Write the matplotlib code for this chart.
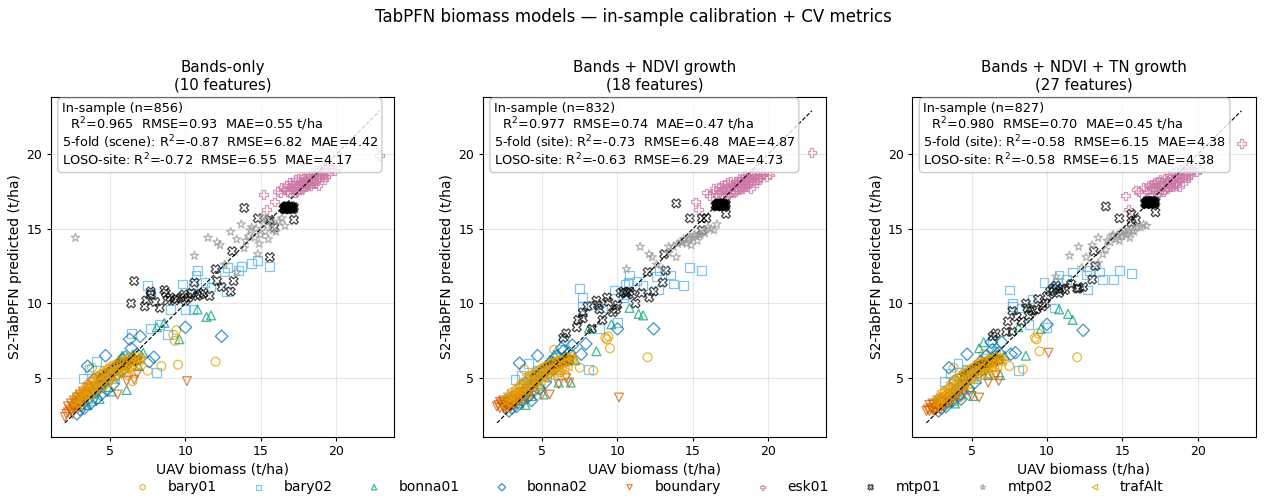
import matplotlib.pyplot as plt
import numpy as np

SITES = ["bary01", "bary02", "bonna01", "bonna02", "boundary",
         "esk01", "mtp01", "mtp02", "trafAlt"]
COLORS = ["#E69F00", "#56B4E9", "#009E73", "#0072B2", "#D55E00",
          "#CC79A7", "#000000", "#999999", "#E69F00"]
MARKERS = ["o", "s", "^", "D", "v", "P", "X", "*", "<"]

MODEL_TITLES = ["Bands-only\n(10 features)",
                "Bands + NDVI growth\n(18 features)",
                "Bands + NDVI + TN growth\n(27 features)"]
N_INSAMPLE = [856, 832, 827]
R2_IN = [0.965, 0.977, 0.980]
RMSE_IN = [0.93, 0.74, 0.70]
MAE_IN = [0.55, 0.47, 0.45]
CV_NAMES = ["5-fold (scene)", "5-fold (site)", "5-fold (site)"]
R2_CV = [-0.87, -0.73, -0.58]
RMSE_CV = [6.82, 6.48, 6.15]
MAE_CV = [4.42, 4.87, 4.38]
R2_LOSO = [-0.72, -0.63, -0.58]
RMSE_LOSO = [6.55, 6.29, 6.15]
MAE_LOSO = [4.17, 4.73, 4.38]

# UAV biomass (x) per site, predictions (y) per site and model
BARY01_X = [12.0, 9.5, 8.4, 7.5, 9.4, 9.3, 9.2, 6.5, 3.8, 3.2, 3.6, 4.2, 4.6, 5.0, 5.4, 5.8,
            6.2, 3.0, 4.0, 5.2, 6.0, 6.8, 4.4]
BARY01_Y_BANDS = [6.1, 5.9, 5.8, 5.5, 8.2, 7.5, 7.9, 4.8, 5.7, 3.9, 4.3, 4.9, 5.5, 5.0, 5.8, 6.3,
                  5.2, 3.5, 4.6, 5.5, 6.1, 6.2, 4.3]
BARY01_Y_NDVI = [6.4, 7.0, 5.5, 5.7, 7.8, 7.6, 7.7, 5.2, 5.6, 4.0, 4.5, 5.0, 5.4, 5.1, 5.7, 6.9,
                 5.4, 3.6, 4.7, 5.6, 6.0, 6.3, 4.4]
BARY01_Y_TN = [6.4, 6.8, 5.6, 5.8, 8.0, 7.6, 7.7, 5.2, 5.7, 4.0, 4.4, 5.0, 5.5, 5.0, 5.8, 6.6,
               5.3, 3.5, 4.6, 5.6, 6.1, 6.2, 4.3]

BARY02_X = [14.4, 14.8, 15.6, 13.7, 13.5, 12.8, 12.6, 12.7, 11.7, 10.8, 10.7, 11.3, 10.5, 9.8,
            10.4, 10.0, 10.5, 9.0, 7.5, 7.7, 7.7, 8.3, 8.8, 8.1, 6.4, 4.1, 3.6, 4.7, 3.2, 3.0,
            3.5, 4.0, 4.5, 5.0, 5.5, 6.0, 3.8, 4.3, 5.3]
BARY02_Y_BANDS = [12.7, 12.9, 12.5, 12.5, 12.2, 12.4, 12.1, 10.8, 11.1, 12.2, 11.9, 11.4, 11.2,
                  11.3, 10.7, 9.6, 9.6, 9.6, 11.2, 10.6, 8.3, 8.6, 7.9, 5.4, 8.0, 6.1, 5.6, 5.2,
                  5.0, 3.3, 3.6, 4.2, 4.8, 5.2, 5.8, 6.3, 3.5, 4.6, 5.0]
BARY02_Y_NDVI = [11.2, 12.4, 12.2, 11.3, 11.9, 12.2, 11.8, 10.9, 11.2, 11.9, 11.4, 11.5, 11.3,
                 10.9, 10.4, 8.7, 10.6, 9.7, 11.0, 10.4, 9.8, 9.9, 8.3, 5.6, 7.5, 6.0, 5.2, 5.5,
                 4.9, 3.4, 3.7, 4.3, 4.9, 5.3, 5.9, 6.4, 3.6, 4.7, 5.1]
BARY02_Y_TN = [11.6, 12.2, 12.0, 11.6, 12.1, 12.2, 11.9, 10.9, 12.1, 11.9, 11.4, 11.6, 11.0,
               11.4, 10.9, 8.4, 9.7, 10.3, 10.9, 10.0, 9.8, 9.7, 8.6, 5.5, 7.6, 6.0, 5.3, 5.6,
               4.8, 3.3, 3.6, 4.2, 4.8, 5.2, 5.8, 6.3, 3.5, 4.6, 5.0]

BONNA01_X = [10.8, 11.4, 11.7, 9.6, 8.6, 8.1, 6.1, 5.8, 2.7, 2.8, 5.1, 6.9, 4.9, 3.9, 5.5, 4.3,
             3.5, 6.5, 7.2]
BONNA01_Y_BANDS = [9.6, 9.1, 9.2, 7.6, 8.7, 8.4, 4.2, 6.5, 3.8, 3.5, 4.1, 5.8, 4.4, 4.0, 6.0, 3.6,
                   3.2, 6.6, 6.7]
BONNA01_Y_NDVI = [9.7, 9.3, 9.2, 8.6, 6.8, 8.3, 4.7, 6.6, 3.2, 3.4, 3.9, 4.7, 4.6, 3.2, 6.2, 3.8,
                  3.3, 6.5, 6.2]
BONNA01_Y_TN = [9.6, 9.3, 8.9, 8.3, 6.5, 8.4, 5.2, 7.4, 3.3, 3.5, 3.8, 5.2, 4.4, 3.3, 7.0, 3.9,
                3.4, 6.8, 6.5]

BONNA02_X = [12.4, 10.0, 7.0, 6.3, 4.7, 3.5, 7.9, 7.6, 6.4, 3.9, 4.3, 4.6, 5.0, 5.3, 5.6, 6.0,
             3.0, 3.3, 3.7, 4.1, 4.4, 4.8, 5.2, 5.8, 6.5, 6.8, 2.8, 3.1, 3.6, 4.0, 4.5, 5.5]
BONNA02_Y_BANDS = [7.8, 8.4, 7.8, 7.6, 6.5, 5.8, 6.4, 6.1, 7.0, 4.9, 4.4, 5.0, 5.3, 5.6, 6.0, 6.4,
                   2.9, 3.0, 3.3, 3.6, 3.9, 4.2, 4.6, 5.5, 6.3, 6.6, 2.6, 3.2, 3.7, 4.1, 4.7, 5.3]
BONNA02_Y_NDVI = [8.3, 8.3, 7.2, 7.0, 6.5, 6.0, 7.3, 6.6, 6.8, 4.7, 3.5, 5.1, 5.4, 5.7, 6.1, 6.5,
                  3.0, 3.1, 3.5, 3.8, 4.1, 4.3, 4.7, 5.6, 6.4, 6.7, 2.8, 3.3, 3.8, 4.2, 4.8, 5.4]
BONNA02_Y_TN = [8.2, 8.6, 7.4, 7.4, 6.6, 5.7, 6.7, 6.6, 6.9, 4.8, 3.6, 5.0, 5.4, 5.7, 6.1, 6.5,
                3.0, 3.1, 3.5, 3.8, 4.1, 4.3, 4.7, 5.6, 6.4, 6.7, 2.8, 3.3, 3.8, 4.2, 4.8, 5.4]

BOUNDARY_X = [10.1, 5.5, 2.0, 2.1, 2.2, 2.3, 2.4, 2.5, 2.6, 2.7, 2.8, 2.9, 3.0, 3.1, 3.2, 3.3,
              3.4, 3.5, 3.6, 3.7, 3.8, 4.0, 4.2, 4.4, 4.6, 6.1, 6.6, 6.8, 2.2, 2.4, 2.6, 2.8,
              3.0, 3.2, 3.5, 3.9, 4.3, 5.0, 2.5, 2.9]
BOUNDARY_Y_BANDS = [4.8, 3.9, 2.4, 2.6, 2.7, 2.9, 2.8, 3.1, 3.0, 3.3, 3.2, 3.5, 3.4, 3.7, 3.6, 3.9,
                    3.8, 4.1, 3.9, 4.3, 4.0, 4.4, 4.3, 4.6, 4.8, 4.8, 4.9, 5.3, 3.1, 3.3, 3.5, 3.7,
                    3.9, 4.1, 4.4, 4.7, 5.0, 4.7, 2.6, 3.0]
BOUNDARY_Y_NDVI = [3.7, 3.9, 3.1, 3.2, 3.0, 3.3, 3.1, 3.4, 3.2, 3.5, 3.3, 3.6, 3.4, 3.7, 3.5, 3.8,
                   3.6, 4.0, 3.8, 4.1, 3.9, 4.3, 4.2, 4.5, 4.6, 4.6, 5.0, 4.7, 3.4, 3.5, 3.0, 3.1,
                   3.2, 3.3, 3.4, 3.6, 3.8, 3.9, 2.9, 3.0]
BOUNDARY_Y_TN = [6.7, 3.7, 2.8, 2.9, 2.8, 3.0, 2.9, 3.2, 3.0, 3.3, 3.1, 3.4, 3.3, 3.6, 3.4, 3.7,
                 3.5, 3.9, 3.7, 4.0, 3.8, 4.2, 4.1, 4.4, 4.5, 4.7, 5.2, 4.8, 3.2, 3.3, 2.9, 3.0,
                 3.1, 3.2, 3.3, 3.5, 3.7, 3.8, 2.8, 2.9]

ESK01_X = [15.2, 15.4, 15.9, 16.1, 16.3, 16.4, 16.6, 16.7, 16.8, 16.9, 17.0, 17.1, 17.2, 17.3,
           17.4, 17.5, 17.6, 17.7, 17.8, 17.9, 18.0, 18.0, 18.1, 18.2, 18.3, 18.4, 18.5, 18.5,
           18.6, 18.7, 18.8, 18.9, 19.0, 19.0, 19.1, 19.2, 19.3, 19.4, 19.5, 19.6, 19.7, 19.9,
           20.1, 17.5, 18.2, 18.8, 19.3, 22.9,
           16.9, 17.2, 17.4, 17.6, 17.8, 18.0, 18.2, 18.4, 18.6, 18.8, 17.0, 17.3, 17.7, 18.1,
           18.5, 18.9, 19.2, 17.9, 18.3, 18.7]
ESK01_Y_BANDS = [17.3, 16.3, 16.8, 17.5, 17.4, 17.8, 17.6, 17.9, 17.5, 18.1, 17.7, 18.0, 17.6, 18.3,
                 17.9, 17.7, 18.2, 17.9, 18.5, 18.0, 18.3, 17.8, 18.6, 18.1, 18.4, 18.8, 18.2, 18.6,
                 18.9, 18.3, 18.7, 19.0, 18.5, 18.8, 19.1, 18.6, 18.9, 19.2, 18.7, 19.0, 19.1, 18.9,
                 19.1, 18.4, 18.0, 17.9, 18.5, 19.9,
                 17.4, 17.9, 17.5, 18.0, 17.7, 18.1, 17.9, 18.3, 18.0, 18.4, 17.9, 17.4, 17.6, 18.4,
                 18.0, 18.5, 18.3, 18.2, 17.9, 18.6]
ESK01_Y_NDVI = [16.8, 16.3, 17.4, 17.2, 17.4, 17.7, 17.3, 17.8, 17.5, 17.9, 17.6, 18.0, 17.4, 18.1,
                17.7, 17.5, 18.0, 17.8, 18.2, 17.7, 18.1, 17.6, 18.4, 17.9, 18.2, 18.5, 18.0, 18.3,
                18.6, 18.1, 18.4, 18.7, 18.2, 18.5, 18.8, 18.3, 18.6, 18.8, 18.4, 18.6, 18.7, 18.5,
                18.6, 18.2, 17.8, 17.7, 18.3, 20.1,
                17.2, 17.7, 17.3, 17.8, 17.5, 17.9, 17.7, 18.1, 17.8, 18.2, 17.7, 17.2, 17.4, 18.2,
                17.8, 18.3, 18.1, 18.0, 17.7, 18.4]
ESK01_Y_TN = [17.2, 16.3, 17.6, 17.5, 17.3, 17.8, 17.5, 17.9, 17.6, 18.0, 17.7, 18.1, 17.6, 18.2,
              17.8, 17.6, 18.1, 17.9, 18.4, 17.8, 18.2, 17.7, 18.6, 18.0, 18.3, 18.8, 18.1, 18.5,
              18.9, 18.2, 18.6, 19.0, 18.4, 18.7, 19.1, 18.5, 18.8, 19.1, 18.6, 18.9, 19.0, 18.8,
              19.0, 18.3, 17.9, 17.8, 18.4, 20.7,
              17.3, 17.8, 17.4, 17.9, 17.6, 18.0, 17.8, 18.2, 17.9, 18.3, 17.8, 17.3, 17.5, 18.3,
              17.9, 18.4, 18.2, 18.1, 17.8, 18.5]

MTP01_X = [16.5, 16.55, 16.6, 16.6, 16.65, 16.7, 16.7, 16.75, 16.8, 16.8, 16.85, 16.9, 16.9,
           16.95, 17.0, 17.0, 17.05, 17.1, 17.1, 17.15, 17.2, 16.7, 16.8, 16.9, 17.0, 16.6,
           16.75, 16.85, 16.95, 17.05,
           13.1, 13.9, 14.8, 15.6, 15.6, 15.9, 17.2,
           6.4, 6.6, 7.3, 7.4, 7.7, 7.7, 8.0, 8.3, 8.6, 8.7, 8.8, 9.0, 9.3, 9.4, 9.7, 9.9, 10.0,
           10.2, 10.4, 10.6, 10.8, 11.0, 11.2, 11.6, 12.0, 12.1, 12.4, 13.0, 13.2,
           4.5, 4.8, 5.0, 5.2, 5.4, 5.6, 5.8, 6.0, 6.2, 6.5, 6.8, 5.3, 5.7, 6.1]
MTP01_Y_BANDS = [16.35, 16.4, 16.45, 16.3, 16.5, 16.35, 16.45, 16.5, 16.35, 16.45, 16.4, 16.5,
                 16.35, 16.45, 16.4, 16.5, 16.35, 16.45, 16.4, 16.3, 16.45, 16.35, 16.4, 16.35,
                 16.4, 16.3, 16.5, 16.4, 16.45, 16.35,
                 13.5, 16.4, 15.7, 15.6, 13.1, 15.1, 15.6,
                 10.0, 11.5, 9.8, 10.2, 10.8, 10.6, 10.1, 9.7, 10.9, 10.7, 10.2, 10.4, 10.2, 10.3,
                 10.4, 10.6, 10.2, 10.4, 10.7, 11.4, 10.5, 10.6, 10.7, 10.5, 12.3, 11.5, 11.1, 10.8,
                 11.5,
                 5.0, 5.3, 5.4, 5.6, 5.7, 5.8, 5.9, 6.0, 6.1, 6.1, 6.2, 5.5, 6.0, 5.9]
MTP01_Y_NDVI = [16.55, 16.6, 16.65, 16.5, 16.7, 16.55, 16.65, 16.7, 16.55, 16.65, 16.6, 16.7,
                16.55, 16.65, 16.6, 16.7, 16.55, 16.65, 16.6, 16.5, 16.65, 16.55, 16.6, 16.55,
                16.6, 16.5, 16.7, 16.6, 16.65, 16.55,
                13.3, 16.7, 15.7, 14.9, 15.7, 15.7, 16.0,
                7.7, 8.0, 8.4, 8.9, 9.4, 9.0, 9.8, 8.3, 10.2, 9.9, 9.6, 8.9, 10.4, 10.1, 9.4, 9.6,
                9.9, 10.7, 10.8, 10.7, 10.8, 10.6, 10.0, 10.7, 12.1, 10.4, 10.8, 11.4, 12.2,
                5.0, 5.2, 5.4, 5.5, 5.7, 5.8, 5.9, 6.0, 6.0, 6.1, 6.2, 5.5, 5.9, 6.0]
MTP01_Y_TN = [16.7, 16.75, 16.8, 16.65, 16.85, 16.7, 16.8, 16.85, 16.7, 16.8, 16.75, 16.85,
              16.7, 16.8, 16.75, 16.85, 16.7, 16.8, 16.75, 16.65, 16.8, 16.7, 16.75, 16.7,
              16.75, 16.65, 16.85, 16.75, 16.8, 16.7,
              13.5, 16.5, 15.7, 15.4, 16.0, 15.6, 16.1,
              7.8, 8.0, 8.1, 8.8, 8.1, 9.5, 9.1, 8.8, 10.0, 9.7, 9.2, 9.5, 9.6, 10.3, 9.8, 10.0,
              10.5, 10.8, 11.0, 11.2, 10.7, 11.0, 10.9, 11.3, 11.0, 11.0, 11.1, 11.6, 12.5,
              5.1, 5.3, 5.4, 5.6, 5.7, 5.8, 5.9, 6.0, 6.1, 6.1, 6.2, 5.5, 5.9, 6.0]

MTP02_X = [2.7, 10.6, 11.5, 12.1, 12.6, 13.0, 13.4, 13.4, 13.9, 14.4, 14.6, 14.8, 14.9, 15.3, 15.5,
           15.7, 16.0, 16.4, 16.6, 12.3, 13.7, 14.2, 15.1, 3.5, 4.0, 4.5, 5.0, 5.5, 6.0, 4.2, 5.2,
           14.0, 14.3, 15.0, 15.2, 15.8, 16.2, 14.7, 15.4]
MTP02_Y_BANDS = [14.4, 13.2, 14.4, 14.1, 12.6, 14.8, 12.1, 14.3, 13.7, 15.1, 14.4, 13.3, 14.0, 14.8,
                 14.3, 15.3, 14.8, 15.7, 15.2, 13.9, 15.3, 14.5, 15.8, 3.8, 4.3, 4.9, 5.4, 5.7, 6.1,
                 4.6, 5.5, 14.2, 14.9, 14.6, 15.3, 14.9, 15.5, 15.0, 15.6]
MTP02_Y_NDVI = [3.9, 12.3, 13.8, 13.3, 12.6, 12.3, 13.4, 13.8, 13.1, 14.3, 14.0, 14.4, 13.9, 14.2,
                14.6, 14.8, 15.1, 14.9, 15.3, 13.1, 13.8, 14.1, 14.6, 3.9, 4.4, 4.9, 5.4, 5.7, 6.1,
                4.6, 5.5, 14.0, 14.1, 14.4, 14.5, 14.7, 15.0, 14.3, 14.6]
MTP02_Y_TN = [3.7, 11.8, 13.2, 13.8, 13.1, 13.9, 12.7, 14.4, 13.6, 14.6, 14.3, 14.2, 14.7, 14.6,
              14.4, 14.9, 15.1, 15.3, 15.2, 12.4, 13.3, 14.1, 14.9, 3.8, 4.3, 4.9, 5.4, 5.7, 6.1,
              4.6, 5.5, 14.2, 14.5, 14.5, 14.8, 14.8, 15.1, 14.6, 14.9]

TRAFALT_X = [2.6, 2.8, 3.0, 3.2, 3.4, 3.6, 3.8, 4.0, 4.2, 4.4, 4.6, 4.8, 5.0, 5.2, 5.4, 5.6,
             5.8, 6.0, 6.2, 6.4, 6.6, 6.8, 7.0,
             2.7, 2.9, 3.1, 3.3, 3.5, 3.7, 3.9, 4.1, 4.3, 4.5, 4.7, 4.9, 5.1, 5.3, 5.5, 5.7,
             5.9, 6.1, 6.3, 6.5, 6.7, 6.9, 6.0,
             2.5, 2.8, 3.1, 3.3, 3.6, 3.8, 4.0, 4.3, 4.5, 4.7, 4.9, 5.1, 5.3, 5.5, 5.7, 5.9,
             6.1, 6.3, 6.5, 6.7, 4.6, 5.0, 5.4]
TRAFALT_Y_BANDS = [3.6, 3.9, 4.1, 4.2, 4.5, 4.8, 4.9, 5.1, 5.3, 5.4, 5.4, 5.7, 5.9, 5.8, 6.0, 6.2,
                   6.1, 6.3, 6.4, 6.3, 6.5, 6.4, 6.3,
                   3.3, 3.5, 3.8, 3.9, 4.1, 4.4, 4.5, 4.7, 4.8, 5.0, 5.2, 5.2, 5.5, 5.5, 5.7, 5.8,
                   5.8, 6.0, 6.1, 6.0, 6.2, 6.2, 5.6,
                   3.0, 3.2, 3.4, 3.7, 3.8, 4.0, 4.3, 4.4, 4.5, 4.7, 4.9, 5.0, 5.1, 5.3, 5.4, 5.4,
                   5.6, 5.7, 5.8, 5.9, 5.0, 5.2, 5.6]
TRAFALT_Y_NDVI = [3.7, 3.9, 4.2, 4.3, 4.5, 4.7, 4.9, 5.2, 5.3, 5.3, 5.5, 5.7, 5.8, 5.9, 6.0, 6.1,
                  6.2, 6.2, 6.3, 6.4, 6.4, 6.5, 6.2,
                  3.4, 3.6, 3.8, 4.0, 4.2, 4.3, 4.6, 4.7, 4.9, 5.0, 5.1, 5.3, 5.4, 5.6, 5.6, 5.7,
                  5.9, 5.9, 6.0, 6.1, 6.1, 6.3, 5.7,
                  3.1, 3.3, 3.5, 3.6, 3.9, 4.1, 4.2, 4.4, 4.6, 4.7, 4.8, 5.0, 5.2, 5.2, 5.3, 5.5,
                  5.5, 5.6, 5.7, 5.8, 4.9, 5.1, 5.5]
TRAFALT_Y_TN = [3.6, 3.8, 4.1, 4.3, 4.4, 4.7, 5.0, 5.1, 5.2, 5.4, 5.5, 5.6, 5.8, 5.9, 6.1, 6.1,
                6.2, 6.3, 6.3, 6.4, 6.5, 6.4, 6.2,
                3.3, 3.6, 3.7, 4.0, 4.1, 4.3, 4.5, 4.8, 4.8, 5.0, 5.2, 5.2, 5.4, 5.5, 5.7, 5.7,
                5.8, 6.0, 6.0, 6.1, 6.2, 6.1, 5.7,
                3.0, 3.2, 3.5, 3.6, 3.8, 4.0, 4.2, 4.5, 4.5, 4.6, 4.9, 5.0, 5.1, 5.2, 5.4, 5.5,
                5.5, 5.7, 5.8, 5.8, 4.9, 5.2, 5.5]

UAV = [BARY01_X, BARY02_X, BONNA01_X, BONNA02_X, BOUNDARY_X,
       ESK01_X, MTP01_X, MTP02_X, TRAFALT_X]
PRED = [
    [BARY01_Y_BANDS, BARY02_Y_BANDS, BONNA01_Y_BANDS, BONNA02_Y_BANDS, BOUNDARY_Y_BANDS,
     ESK01_Y_BANDS, MTP01_Y_BANDS, MTP02_Y_BANDS, TRAFALT_Y_BANDS],
    [BARY01_Y_NDVI, BARY02_Y_NDVI, BONNA01_Y_NDVI, BONNA02_Y_NDVI, BOUNDARY_Y_NDVI,
     ESK01_Y_NDVI, MTP01_Y_NDVI, MTP02_Y_NDVI, TRAFALT_Y_NDVI],
    [BARY01_Y_TN, BARY02_Y_TN, BONNA01_Y_TN, BONNA02_Y_TN, BOUNDARY_Y_TN,
     ESK01_Y_TN, MTP01_Y_TN, MTP02_Y_TN, TRAFALT_Y_TN],
]

fig = plt.figure(figsize=(12.67, 5.04), dpi=100)
lefts = [0.040, 0.381, 0.720]

handles = []
for k in range(3):
    ax = fig.add_axes([lefts[k], 0.133, 0.271, 0.675])
    all_vals = []
    for i, site in enumerate(SITES):
        x = np.array(UAV[i])
        y = np.array(PRED[k][i])
        all_vals += [x, y]
        sc = ax.scatter(x, y, marker=MARKERS[i], s=40, facecolors="none",
                        edgecolors=COLORS[i], linewidths=0.9, alpha=0.75, label=site)
        if k == 0:
            handles.append(sc)
    all_vals = np.concatenate(all_vals)
    lo, hi = all_vals.min(), all_vals.max()
    ax.plot([lo, hi], [lo, hi], "k--", lw=0.8)
    pad = 0.045 * (hi - lo)
    ax.set_xlim(lo - pad, hi + pad)
    ax.set_ylim(lo - pad, hi + pad)
    ax.set_xticks([5, 10, 15, 20])
    ax.set_yticks([5, 10, 15, 20])
    ax.grid(alpha=0.3)
    ax.set_title(MODEL_TITLES[k], fontsize=10.8, pad=5)
    ax.set_xlabel("UAV biomass (t/ha)", fontsize=10, labelpad=3)
    ax.set_ylabel("S2-TabPFN predicted (t/ha)", fontsize=10, labelpad=3)
    ax.tick_params(labelsize=9, length=3, pad=3)

    txt = (f"In-sample (n={N_INSAMPLE[k]})\n"
           f"  R$^2$={R2_IN[k]:.3f}  RMSE={RMSE_IN[k]:.2f}  MAE={MAE_IN[k]:.2f} t/ha\n"
           f"{CV_NAMES[k]}: R$^2$={R2_CV[k]:.2f}  RMSE={RMSE_CV[k]:.2f}  MAE={MAE_CV[k]:.2f}\n"
           f"LOSO-site: R$^2$={R2_LOSO[k]:.2f}  RMSE={RMSE_LOSO[k]:.2f}  MAE={MAE_LOSO[k]:.2f}")
    ax.text(0.032, 0.985, txt, transform=ax.transAxes, va="top", ha="left", fontsize=9.3,
            linespacing=1.05,
            bbox=dict(boxstyle="round,pad=0.3", facecolor="white", alpha=0.8, edgecolor="0.75"))

fig.suptitle("TabPFN biomass models — in-sample calibration + CV metrics",
             fontsize=12, y=0.985)
fig.legend(handles, SITES, loc="center", bbox_to_anchor=(0.51, 0.034), ncol=9,
           frameon=False, fontsize=10, markerscale=0.6)

fig.savefig("out.png", dpi=100)
